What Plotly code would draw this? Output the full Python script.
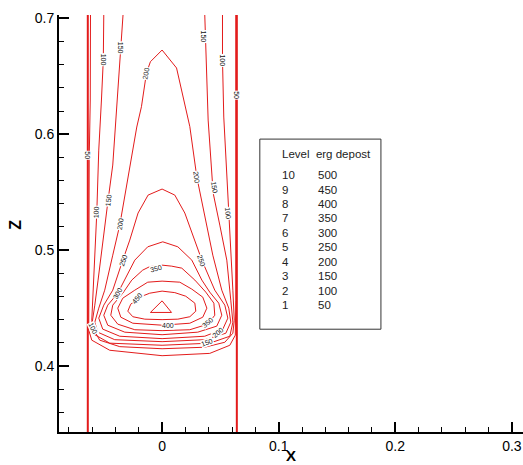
import plotly.graph_objects as go

# ---- contour levels (legend table) ----
level_ids = [10, 9, 8, 7, 6, 5, 4, 3, 2, 1]
level_vals = [500, 450, 400, 350, 300, 250, 200, 150, 100, 50]

c50_x = [-0.0614, -0.0616, -0.0625, -0.0629, -0.0629, -0.0603, -0.0449, 0.000, 0.0409, 0.0581, 0.0628, 0.0632, 0.0632]
c50_z = [0.7028, 0.6295, 0.5777, 0.4569, 0.4310, 0.4224, 0.4137, 0.4090, 0.4110, 0.4180, 0.4267, 0.4569, 0.7028]

c100_x = [-0.0500, -0.0504, -0.0520, -0.0543, -0.0560, -0.0577, -0.0590, -0.0603, -0.0592, -0.0535, -0.0363, 0.000,
          0.0366, 0.0538, 0.0607, 0.0619, 0.0607, 0.0572, 0.0529, 0.0518, 0.0518]
c100_z = [0.7028, 0.6640, 0.6295, 0.5863, 0.5320, 0.4914, 0.4569, 0.4396, 0.4325, 0.4224, 0.4168, 0.4150,
          0.4163, 0.4206, 0.4284, 0.4396, 0.4655, 0.5320, 0.6148, 0.6640, 0.7028]

c150_x = [-0.0335, -0.0357, -0.0397, -0.0423, -0.0463, -0.0509, -0.0549, -0.0577, -0.0599, -0.0586, -0.0449, 0.000,
          0.0409, 0.0581, 0.0607, 0.0589, 0.0555, 0.0495, 0.0438, 0.0395, 0.0381, 0.0366]
c150_z = [0.7028, 0.6701, 0.6148, 0.5734, 0.5432, 0.5087, 0.4742, 0.4526, 0.4379, 0.4276, 0.4198, 0.4180,
          0.4198, 0.4258, 0.4379, 0.4569, 0.4914, 0.5216, 0.5492, 0.6122, 0.6640, 0.7028]

c200_x = [0.000, -0.0100, -0.0134, -0.0177, -0.0217, -0.0294, -0.0363, -0.0423, -0.0492, -0.0543, -0.0577, -0.0552,
          -0.0406, 0.000, 0.0366, 0.0547, 0.0589, 0.0572, 0.0512, 0.0435, 0.0366, 0.0298, 0.0238, 0.0166, 0.0124, 0.000]
c200_z = [0.6726, 0.6625, 0.6528, 0.6237, 0.6062, 0.5604, 0.5216, 0.4957, 0.4655, 0.4500, 0.4379, 0.4293,
          0.4228, 0.4211, 0.4228, 0.4284, 0.4379, 0.4500, 0.4655, 0.4957, 0.5302, 0.5630, 0.6065, 0.6381, 0.6571, 0.6726]

c250_x = [0.000, -0.0120, -0.0206, -0.0277, -0.0337, -0.0423, -0.0500, -0.0543, -0.0509, -0.0363, 0.000,
          0.0366, 0.0521, 0.0564, 0.0538, 0.0452, 0.0341, 0.0281, 0.0195, 0.0109, 0.000]
c250_z = [0.5527, 0.5475, 0.5320, 0.5087, 0.4914, 0.4655, 0.4526, 0.4414, 0.4319, 0.4258, 0.4237,
          0.4258, 0.4319, 0.4414, 0.4526, 0.4655, 0.4914, 0.5087, 0.5320, 0.5475, 0.5527]

c300_x = [0.0006, -0.0123, -0.0234, -0.0320, -0.0380, -0.0466, -0.0500, -0.0466, -0.0320, 0.000,
          0.0306, 0.0469, 0.0512, 0.0486, 0.0409, 0.0341, 0.0255, 0.0135, 0.0006]
c300_z = [0.5072, 0.5029, 0.4914, 0.4742, 0.4629, 0.4526, 0.4439, 0.4353, 0.4293, 0.4271,
          0.4293, 0.4345, 0.4439, 0.4543, 0.4638, 0.4742, 0.4914, 0.5029, 0.5072]

c350_x = [0.000, -0.0106, -0.0166, -0.0260, -0.0337, -0.0423, -0.0440, -0.0380, -0.0234, 0.000,
          0.0238, 0.0392, 0.0452, 0.0444, 0.0375, 0.0281, 0.0169, 0.0083, 0.000]
c350_z = [0.4871, 0.4858, 0.4828, 0.4742, 0.4629, 0.4526, 0.4439, 0.4362, 0.4314, 0.4306,
          0.4314, 0.4362, 0.4439, 0.4543, 0.4638, 0.4742, 0.4845, 0.4862, 0.4871]

c400_x = [0.000, -0.0123, -0.0234, -0.0337, -0.0380, -0.0354, -0.0251, 0.000, 0.0238, 0.0349, 0.0384, 0.0349, 0.0255, 0.0152, 0.000]
c400_z = [0.4733, 0.4724, 0.4655, 0.4586, 0.4500, 0.4422, 0.4370, 0.4353, 0.4370, 0.4422, 0.4500, 0.4595, 0.4664, 0.4724, 0.4733]

c450_x = [0.000, -0.0106, -0.0191, -0.0269, -0.0294, -0.0251, -0.0148, 0.000, 0.0135, 0.0238, 0.0289, 0.0281, 0.0203, 0.0109, 0.000]
c450_z = [0.4647, 0.4629, 0.4595, 0.4534, 0.4474, 0.4426, 0.4405, 0.4401, 0.4405, 0.4426, 0.4474, 0.4543, 0.4603, 0.4634, 0.4647]

c500_x = [0.000, -0.0100, 0.0081, 0.000]
c500_z = [0.4563, 0.4463, 0.4463, 0.4563]

# channel walls
wall_x = [-0.0637, 0.0641]

# contour labels
lab_text = ["50", "50", "100", "150", "150", "100", "200", "100", "150", "200", "200", "150", "100",
            "250", "250", "350", "300", "450", "100", "400", "350", "200", "150"]
lab_x = [-0.0637, 0.0641, -0.0504, -0.0357, 0.0352, 0.0510, -0.0134, -0.0563, -0.0463, -0.0363, 0.0298, 0.0452, 0.0566,
         -0.0335, 0.0338, -0.0048, -0.0380, -0.0217, -0.0592, 0.0049, 0.0392, 0.0480, 0.0384]
lab_z = [0.5820, 0.6338, 0.6640, 0.6741, 0.6841, 0.6640, 0.6528, 0.5331, 0.5432, 0.5225, 0.5630, 0.5544, 0.5317,
         0.4914, 0.4914, 0.4845, 0.4625, 0.4586, 0.4325, 0.4353, 0.4375, 0.4290, 0.4206]
lab_angle = [90, 90, 90, 90, 90, 90, -79, -88, -84, -80, 82, 80, 85,
             -71, 71, -15, -60, -50, 65, 0, -40, -40, -20]

x_range = [-0.0884, 0.3095]
z_range = [0.3432, 0.7028]

RED = "#e31b1b"
FONT = "Arial, Liberation Sans, sans-serif"

fig = go.Figure()
contours = [(c50_x, c50_z), (c100_x, c100_z), (c150_x, c150_z), (c200_x, c200_z), (c250_x, c250_z),
            (c300_x, c300_z), (c350_x, c350_z), (c400_x, c400_z), (c450_x, c450_z), (c500_x, c500_z)]
for cx, cz in contours:
    fig.add_trace(go.Scatter(x=cx, y=cz, mode="lines", line=dict(color=RED, width=1),
                             hoverinfo="skip", showlegend=False))
for wx in wall_x:
    fig.add_trace(go.Scatter(x=[wx, wx], y=z_range, mode="lines", line=dict(color=RED, width=2),
                             hoverinfo="skip", showlegend=False))

annotations = []
for t, x, z, a in zip(lab_text, lab_x, lab_z, lab_angle):
    annotations.append(dict(x=x, y=z, xref="x", yref="y", text=t, showarrow=False, textangle=a,
                            font=dict(family=FONT, size=7, color="#111"), bgcolor="white", borderpad=0))

# axis titles
annotations.append(dict(x=0.5, y=-0.079, xref="paper", yref="paper", text="<b>X</b>", showarrow=False,
                        font=dict(family=FONT, size=15, color="black"), xanchor="center", yanchor="bottom",
                        borderpad=0))
annotations.append(dict(x=-0.0955, y=0.496, xref="paper", yref="paper", text="<b>Z</b>", showarrow=False,
                        textangle=-90, font=dict(family=FONT, size=16, color="black"),
                        xanchor="center", yanchor="middle"))

# legend table
box_l, box_r, box_t, box_b = 0.4328, 0.6938, 0.7024, 0.2465
col1_x, col2_x = 0.4760, 0.5540
head_y, row0_y, row_dy = 0.6664, 0.6160, 0.0346
annotations.append(dict(x=col1_x, y=head_y, xref="paper", yref="paper", text="Level  erg depost", showarrow=False,
                        xanchor="left", yanchor="middle", font=dict(family=FONT, size=11.5, color="#222")))
for i, (lid, lv) in enumerate(zip(level_ids, level_vals)):
    yy = row0_y - i * row_dy
    annotations.append(dict(x=col1_x, y=yy, xref="paper", yref="paper", text=str(lid), showarrow=False,
                            xanchor="left", yanchor="middle", font=dict(family=FONT, size=11.5, color="#222")))
    annotations.append(dict(x=col2_x, y=yy, xref="paper", yref="paper", text=str(lv), showarrow=False,
                            xanchor="left", yanchor="middle", font=dict(family=FONT, size=11.5, color="#222")))

fig.update_layout(
    width=523, height=465,
    margin=dict(l=59, r=0, t=15, b=33),
    paper_bgcolor="white", plot_bgcolor="white",
    showlegend=False,
    annotations=annotations,
    shapes=[dict(type="rect", xref="paper", yref="paper", x0=box_l, x1=box_r, y0=box_b, y1=box_t,
                 line=dict(color="#333", width=1), fillcolor="white", layer="below")],
    xaxis=dict(range=x_range, showgrid=False, zeroline=False, showline=True, linecolor="black", linewidth=2,
               ticks="inside", ticklen=10, tickwidth=2, tickcolor="black", dtick=0.1, tick0=0,
               tickfont=dict(family=FONT, size=14, color="black"), automargin=False,
               minor=dict(ticks="inside", ticklen=5, tickwidth=1, tickcolor="black", dtick=0.02, showgrid=False)),
    yaxis=dict(range=z_range, showgrid=False, zeroline=False, showline=True, linecolor="black", linewidth=2,
               ticks="inside", ticklen=10, tickwidth=2, tickcolor="black", dtick=0.1, tick0=0,
               tickfont=dict(family=FONT, size=14, color="black"), automargin=False,
               minor=dict(ticks="inside", ticklen=5, tickwidth=1, tickcolor="black", dtick=0.02, showgrid=False)),
)

fig.write_html("out.html")
